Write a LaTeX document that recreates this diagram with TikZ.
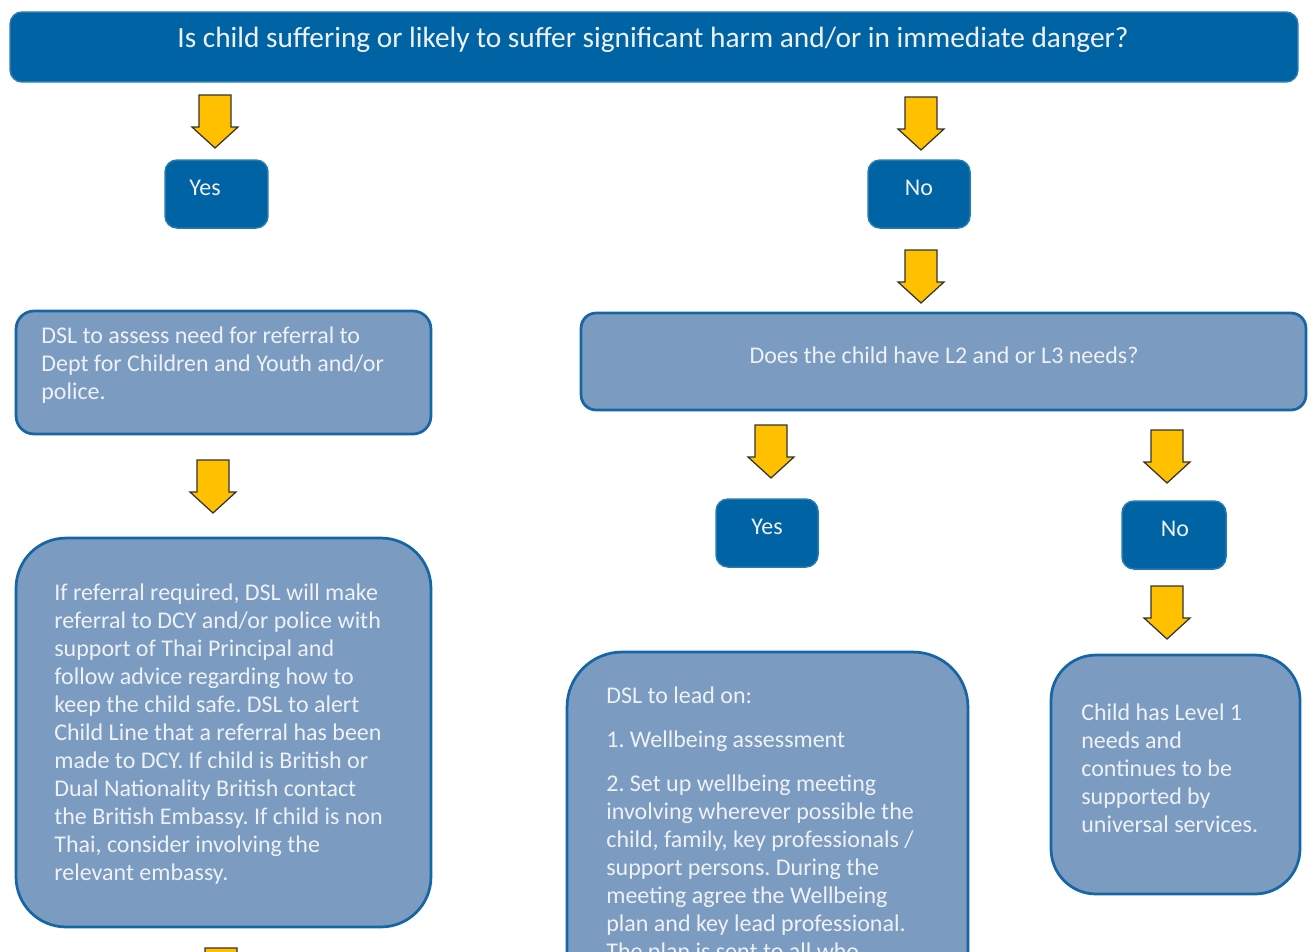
\documentclass[tikz,border=0pt]{standalone}
\usepackage{fontspec}
\setmainfont{Carlito}
\usetikzlibrary{calc}
\frenchspacing

\definecolor{darkBlue}{RGB}{0,99,163}
\definecolor{lightFill}{RGB}{123,155,192}
\definecolor{boxEdge}{RGB}{22,102,165}
\definecolor{arrowYellow}{RGB}{255,192,0}
\definecolor{softWhite}{RGB}{238,242,247}

\def\px{0.2mm}
\def\yellowArrow#1#2{%
\begin{scope}[shift={(#1,#2)}]
\filldraw[yArrow] (-16,0) -- (16,0) -- (16,32) -- (23,32) -- (0,53) -- (-23,32) -- (-16,32) -- cycle;
\end{scope}
}

\begin{document}
\begin{tikzpicture}[x=0.02cm, y=-0.02cm]

% styles
\tikzstyle{darkBox}=[rectangle, rounded corners=2.4mm, fill=darkBlue, draw=darkBlue!85!white, line width=0.3mm]
\tikzstyle{lightBox}=[rectangle, fill=lightFill, draw=boxEdge, line width=0.55mm]
\tikzstyle{yArrow}=[fill=arrowYellow, draw=black!80, line width=0.25mm, line join=miter]
\tikzstyle{boxText}=[text=softWhite, inner sep=0pt, font=\fontsize{13.65}{15.9}\selectfont]
\tikzstyle{paraText}=[boxText, align=left, anchor=west]

\useasboundingbox (0,0) rectangle (1311,951);

% question bar
\node[darkBox, minimum width=1288*\px, minimum height=70*\px] (question) at (654,47) {};
\node[boxText, font=\fontsize{16.7}{19}\selectfont] (questionText) at (653,40) {Is child suffering or likely to suffer significant harm and/or in immediate danger?};

% first answers
\node[darkBox, minimum width=103*\px, minimum height=68*\px] (yesA) at (216.5,194) {};
\node[boxText] (yesAText) at (205,188) {Yes};
\node[darkBox, minimum width=102*\px, minimum height=68*\px] (noA) at (919,194) {};
\node[boxText] (noAText) at (919,188) {No};

\yellowArrow{215}{95}
\yellowArrow{921}{97}
\yellowArrow{921}{250}

% left branch
\node[lightBox, rounded corners=3.6mm, minimum width=415*\px, minimum height=123*\px] (assess) at (223.5,372.5) {};
\node[paraText] (assessText) at (41,365) {DSL to assess need for referral to\\Dept for Children and Youth and/or\\police.};

\yellowArrow{213}{460}

\node[lightBox, rounded corners=10mm, minimum width=415*\px, minimum height=389*\px] (referral) at (223.5,732.5) {};
\node[paraText] (referralText) at (54,734) {If referral required, DSL will make\\referral to DCY and/or police with\\support of Thai Principal and\\follow advice regarding how to\\keep the child safe. DSL to alert\\Child Line that a referral has been\\made to DCY. If child is British or\\Dual Nationality British contact\\the British Embassy. If child is non\\Thai, consider involving the\\relevant embassy.};

\yellowArrow{221}{948}

% right branch
\node[lightBox, rounded corners=3mm, minimum width=725*\px, minimum height=97*\px] (needs) at (943.5,361.5) {};
\node[boxText] (needsText) at (944,355) {Does the child have L2 and or L3 needs?};

\yellowArrow{771}{425}
\yellowArrow{1167}{430}

\node[darkBox, minimum width=102*\px, minimum height=68*\px] (yesB) at (767,533) {};
\node[boxText] (yesBText) at (767,527) {Yes};
\node[darkBox, minimum width=104*\px, minimum height=68*\px] (noB) at (1174,535) {};
\node[boxText] (noBText) at (1175,529) {No};

\yellowArrow{1167}{586}

\node[lightBox, rounded corners=11mm, minimum width=401*\px, minimum height=358*\px] (lead) at (767.5,831) {};
\node[paraText] (leadText) at (606,825) {DSL to lead on:\\[3.2mm]1. Wellbeing assessment\\[3.2mm]2. Set up wellbeing meeting\\involving wherever possible the\\child, family, key professionals /\\support persons. During the\\meeting agree the Wellbeing\\plan and key lead professional.\\The plan is sent to all who};

\node[lightBox, rounded corners=9mm, minimum width=249*\px, minimum height=239*\px] (levelOne) at (1175.5,774.5) {};
\node[paraText] (levelOneText) at (1081,768) {Child has Level 1\\needs and\\continues to be\\supported by\\universal services.};

\end{tikzpicture}
\end{document}
